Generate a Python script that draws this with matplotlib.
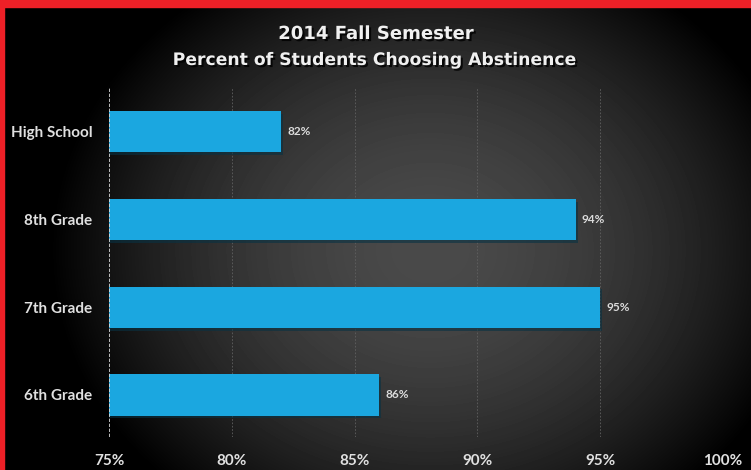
import numpy as np
import matplotlib
matplotlib.use("Agg")
import matplotlib.pyplot as plt
import matplotlib.patheffects as pe
from matplotlib.patches import Rectangle

# data
grades = ['6th Grade', '7th Grade', '8th Grade', 'High School']
percent = [86, 95, 94, 82]
xticks = [75, 80, 85, 90, 95, 100]

plt.rcParams['font.family'] = ['Lato', 'DejaVu Sans']
W, H = 751, 470
fig = plt.figure(figsize=(W / 100, H / 100), dpi=100)

# radial gradient background
bg = fig.add_axes([0, 0, 1, 1], zorder=-10)
yy, xx = np.mgrid[0:H, 0:W]
r = np.sqrt(((xx - 430) / 380.0) ** 2 + ((yy - 250) / 320.0) ** 2)
val = np.clip(0.29 - 0.29 * r ** 1.8, 0.0, 1)
bg.imshow(val, cmap='gray', vmin=0, vmax=1, aspect='auto', extent=[0, W, H, 0])
bg.set_axis_off()

# red border
fig.patches.append(Rectangle((0, 1 - 7 / H), 1, 7 / H, transform=fig.transFigure,
                             color='#ee2027', zorder=5))
fig.patches.append(Rectangle((0, 0), 4 / W, 1, transform=fig.transFigure,
                             color='#ee2027', zorder=5))

ax = fig.add_axes([109 / W, 1 - 437 / H, (723 - 109) / W, (437 - 88) / H])
ax.patch.set_alpha(0)
y = np.arange(len(grades))
ax.barh(y, percent, height=0.47, color='#1ba7e0', zorder=3,
        path_effects=[pe.SimplePatchShadow(offset=(1.5, -2), alpha=0.6),
                      pe.Normal()])
ax.set_xlim(75, 100)
ax.set_ylim(-0.48, 3.5)
ax.set_xticks(xticks)
ax.set_xticklabels([f'{t}%' for t in xticks])
ax.set_yticks(y)
ax.set_yticklabels(grades)
for s in ax.spines.values():
    s.set_visible(False)
ax.tick_params(length=0, colors='#e0e0e0', labelsize=11)
ax.tick_params(axis='x', pad=12)
ax.tick_params(axis='y', pad=12)
for lbl in ax.get_xticklabels() + ax.get_yticklabels():
    lbl.set_fontweight('bold')

for t in xticks[1:]:
    ax.axvline(t, color='#606060', lw=0.6, ls=(0, (2, 2)), zorder=1)
ax.axvline(75, color='#dddddd', lw=1.2, ls=(0, (2, 1)), zorder=4)

for yi, v in zip(y, percent):
    ax.text(v + 0.25, yi, f'{v}%', va='center', ha='left', color='#dcdcdc',
            fontsize=8.5, fontweight='bold', zorder=5)

t1 = fig.text(0.5, 1 - 34 / H, '2014 Fall Semester', ha='center', va='center',
              color='#f0f0f0', fontsize=13, fontweight='bold', family='DejaVu Sans')
t2 = fig.text(0.5, 1 - 60 / H, 'Percent of Students Choosing Abstinence', ha='center',
              va='center', color='#f0f0f0', fontsize=12.4, fontweight='bold',
              family='DejaVu Sans')
for t in (t1, t2):
    t.set_path_effects([pe.withSimplePatchShadow(offset=(1.5, -1.5),
                                                 shadow_rgbFace='k', alpha=0.8)])

fig.savefig('out.png', dpi=100)
